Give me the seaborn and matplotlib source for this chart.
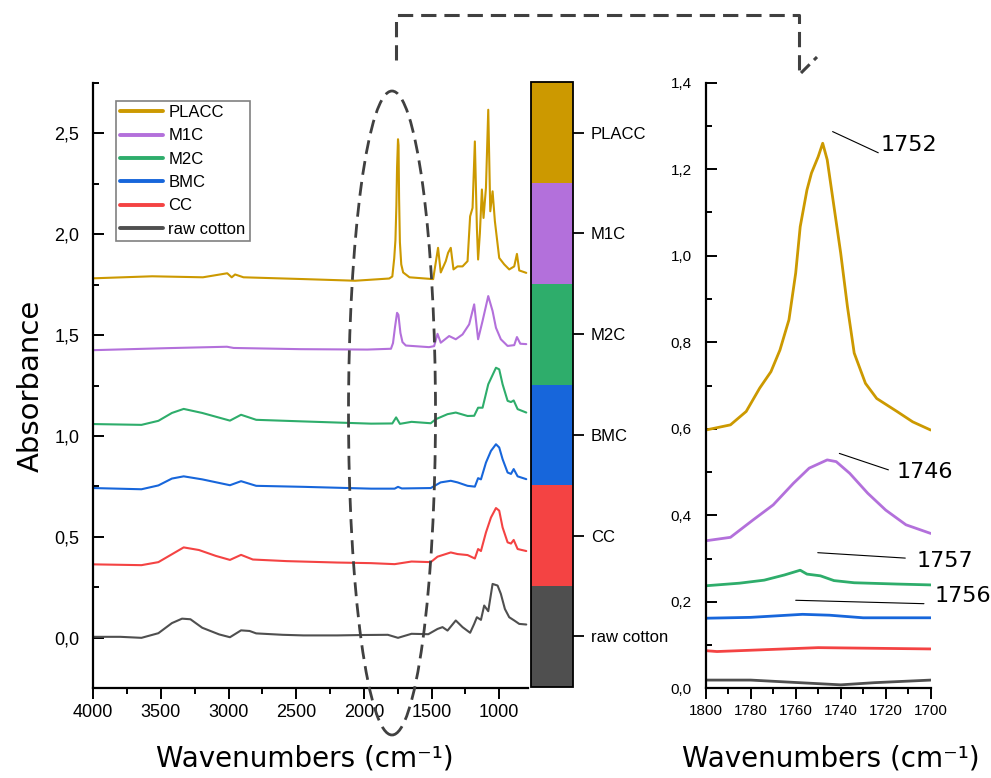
import numpy as np
import pandas as pd
import matplotlib
matplotlib.use("Agg")
import matplotlib.pyplot as plt
import seaborn as sns
from matplotlib.colors import ListedColormap, BoundaryNorm
from matplotlib.cm import ScalarMappable
from matplotlib.patches import Ellipse
from matplotlib.lines import Line2D
from matplotlib.ticker import MultipleLocator, FuncFormatter

# Muestras y colores (orden de la leyenda)
SAMPLES = ["PLACC", "M1C", "M2C", "BMC", "CC", "raw cotton"]
COLORS = ["#CC9900", "#B370DB", "#2EAD6B", "#1766DB", "#F44343", "#4F4F4F"]

# Espectros completos (números de onda en cm-1, absorbancia con desplazamiento)
PLACC_WN = [4000, 3565, 3190, 3010, 2977, 2952, 2890, 2439, 2064, 1813, 1790, 1776,
            1767, 1760, 1755, 1748, 1744, 1740, 1734, 1724, 1710, 1663, 1488, 1481,
            1452, 1432, 1395, 1378, 1358, 1338, 1308, 1271, 1234, 1215, 1197, 1180,
            1165, 1156, 1143, 1128, 1116, 1098, 1081, 1066, 1049, 1032, 1000, 963,
            926, 889, 869, 852, 800]
PLACC_A = [1.781, 1.791, 1.786, 1.806, 1.786, 1.800, 1.786, 1.777, 1.769, 1.780, 1.790, 1.880,
           1.970, 2.140, 2.330, 2.470, 2.440, 2.180, 1.960, 1.850, 1.810, 1.786, 1.777, 1.808,
           1.932, 1.810, 1.866, 1.907, 1.932, 1.825, 1.840, 1.840, 1.866, 2.088, 2.130, 2.459,
           2.031, 1.874, 2.003, 2.221, 2.080, 2.229, 2.616, 2.113, 2.212, 2.064, 1.882, 1.850,
           1.825, 1.840, 1.902, 1.820, 1.808]

M1C_WN = [4000, 3456, 3012, 2963, 2469, 1975, 1800, 1785, 1770, 1755, 1745, 1730, 1715,
          1690, 1519, 1481, 1456, 1432, 1370, 1321, 1271, 1222, 1185, 1156, 1123, 1081,
          1049, 1024, 988, 938, 889, 869, 844, 800]
M1C_A = [1.425, 1.435, 1.442, 1.436, 1.430, 1.428, 1.432, 1.460, 1.540, 1.610, 1.600, 1.510, 1.465,
         1.448, 1.440, 1.445, 1.506, 1.462, 1.495, 1.479, 1.503, 1.553, 1.652, 1.479, 1.570, 1.693,
         1.619, 1.536, 1.479, 1.446, 1.450, 1.490, 1.457, 1.455]

M2C_WN = [4000, 3644, 3519, 3419, 3332, 3195, 2990, 2908, 2796, 2447, 1947, 1790, 1762,
          1734, 1648, 1506, 1469, 1382, 1321, 1234, 1185, 1156, 1123, 1081, 1024, 1000,
          975, 938, 913, 893, 864, 800]
M2C_A = [1.059, 1.055, 1.075, 1.114, 1.134, 1.114, 1.076, 1.105, 1.080, 1.072, 1.061, 1.062, 1.092,
         1.060, 1.070, 1.063, 1.083, 1.108, 1.116, 1.099, 1.100, 1.140, 1.140, 1.256, 1.338, 1.330,
         1.256, 1.174, 1.168, 1.176, 1.133, 1.116]

BMC_WN = [4000, 3644, 3519, 3419, 3332, 3195, 2990, 2908, 2796, 2447, 1947, 1773, 1748,
          1720, 1506, 1433, 1358, 1308, 1234, 1180, 1156, 1135, 1098, 1061, 1024, 1000,
          975, 938, 913, 893, 864, 800]
BMC_A = [0.742, 0.736, 0.755, 0.789, 0.800, 0.785, 0.756, 0.776, 0.753, 0.748, 0.739, 0.739, 0.748,
         0.740, 0.742, 0.770, 0.778, 0.770, 0.753, 0.749, 0.791, 0.785, 0.868, 0.926, 0.959, 0.943,
         0.885, 0.819, 0.812, 0.836, 0.800, 0.786]

CC_WN = [4000, 3644, 3519, 3419, 3332, 3219, 3095, 2990, 2908, 2821, 2571, 2197, 1947,
         1773, 1648, 1506, 1456, 1358, 1308, 1234, 1180, 1156, 1135, 1098, 1061, 1024,
         1000, 975, 938, 913, 893, 864, 800]
CC_A = [0.364, 0.360, 0.375, 0.414, 0.448, 0.435, 0.406, 0.386, 0.411, 0.388, 0.380, 0.373, 0.370,
        0.365, 0.378, 0.375, 0.402, 0.423, 0.415, 0.410, 0.393, 0.440, 0.430, 0.522, 0.596, 0.643,
        0.630, 0.547, 0.473, 0.467, 0.485, 0.440, 0.430]

RAW_WN = [4000, 3800, 3644, 3519, 3419, 3344, 3282, 3195, 3070, 2990, 2908, 2845, 2796,
          2600, 2447, 2197, 2000, 1823, 1748, 1648, 1524, 1456, 1419, 1382, 1321, 1271,
          1215, 1185, 1165, 1135, 1111, 1081, 1049, 1012, 988, 958, 926, 889, 852, 800]
RAW_A = [0.005, 0.005, 0.000, 0.023, 0.073, 0.095, 0.092, 0.050, 0.017, 0.003, 0.037, 0.034, 0.022,
         0.015, 0.012, 0.012, 0.014, 0.015, 0.000, 0.020, 0.018, 0.044, 0.053, 0.036, 0.086, 0.053,
         0.025, 0.069, 0.102, 0.089, 0.160, 0.132, 0.267, 0.259, 0.218, 0.143, 0.102, 0.086, 0.069,
         0.066]

# Zona del carbonilo (1800-1700 cm-1)
PLACC_Z_WN = [1800, 1789, 1782, 1776, 1771, 1767, 1763, 1760, 1758, 1755, 1753, 1750, 1748,
              1746, 1743, 1740, 1737, 1734, 1729, 1724, 1715, 1708, 1700]
PLACC_Z_A = [0.597, 0.609, 0.640, 0.694, 0.732, 0.782, 0.852, 0.960, 1.067, 1.152, 1.191, 1.229,
             1.260, 1.222, 1.114, 1.006, 0.882, 0.775, 0.705, 0.670, 0.640, 0.616, 0.597]
M1C_Z_WN = [1800, 1789, 1779, 1770, 1761, 1754, 1746, 1742, 1736, 1728, 1720, 1711, 1700]
M1C_Z_A = [0.341, 0.349, 0.389, 0.424, 0.474, 0.509, 0.528, 0.524, 0.497, 0.451, 0.412, 0.378, 0.358]
M2C_Z_WN = [1800, 1785, 1774, 1765, 1758, 1755, 1749, 1743, 1734, 1715, 1700]
M2C_Z_A = [0.237, 0.243, 0.250, 0.262, 0.273, 0.264, 0.260, 0.249, 0.244, 0.241, 0.239]
BMC_Z_WN = [1800, 1780, 1757, 1745, 1730, 1700]
BMC_Z_A = [0.162, 0.164, 0.171, 0.169, 0.163, 0.163]
CC_Z_WN = [1800, 1795, 1780, 1750, 1700]
CC_Z_A = [0.087, 0.085, 0.088, 0.094, 0.091]
RAW_Z_WN = [1800, 1780, 1762, 1740, 1725, 1700]
RAW_Z_A = [0.019, 0.019, 0.014, 0.008, 0.013, 0.019]

PEAK_LABELS = ["1752", "1746", "1757", "1756"]


def long_df(series):
    frames = []
    for name, wn, a in series:
        frames.append(pd.DataFrame({"wn": wn, "A": a, "muestra": name}))
    return pd.concat(frames, ignore_index=True)


full = long_df(zip(SAMPLES, [PLACC_WN, M1C_WN, M2C_WN, BMC_WN, CC_WN, RAW_WN],
                   [PLACC_A, M1C_A, M2C_A, BMC_A, CC_A, RAW_A]))
zoom = long_df(zip(SAMPLES, [PLACC_Z_WN, M1C_Z_WN, M2C_Z_WN, BMC_Z_WN, CC_Z_WN, RAW_Z_WN],
                   [PLACC_Z_A, M1C_Z_A, M2C_Z_A, BMC_Z_A, CC_Z_A, RAW_Z_A]))

sns.set_style("ticks")
plt.rcParams["font.family"] = ["Liberation Sans", "DejaVu Sans"]
plt.rcParams.update({"axes.linewidth": 1.6, "text.color": "black",
                     "axes.labelcolor": "black", "axes.edgecolor": "black",
                     "xtick.color": "black", "ytick.color": "black"})

W, H = 991, 778
fig = plt.figure(figsize=(W / 100, H / 100), dpi=100)


def fx(px):
    return px / W


def fy(py):
    return 1 - py / H


comma = FuncFormatter(lambda v, p: f"{abs(v) if abs(v) < 1e-9 else v:.1f}".replace(".", ","))
label_font = dict(family="DejaVu Sans", fontsize=20)
XLABEL = "Wavenumbers (cm\u207b\u00b9)"

# Gráfico principal
ax = fig.add_axes([fx(93.3), fy(688.3), fx(528.3) - fx(93.3), fy(82.7) - fy(688.3)])
sns.lineplot(data=full, x="wn", y="A", hue="muestra", hue_order=SAMPLES, palette=COLORS,
             estimator=None, sort=False, lw=1.5, legend=False, ax=ax)
ax.set_xlim(4000, 785)
ax.set_ylim(-0.25, 2.75)
ax.xaxis.set_major_locator(MultipleLocator(500))
ax.xaxis.set_minor_locator(MultipleLocator(250))
ax.yaxis.set_major_locator(MultipleLocator(0.5))
ax.yaxis.set_minor_locator(MultipleLocator(0.25))
ax.yaxis.set_major_formatter(comma)
ax.tick_params(axis="x", which="both", direction="out", width=1.4, labelsize=13)
ax.tick_params(axis="y", which="both", direction="in", width=1.4, labelsize=13, pad=10)
ax.tick_params(which="major", length=8)
ax.tick_params(which="minor", length=4.5)
sns.despine(ax=ax)
ax.set_xlabel(XLABEL, **label_font)
ax.set_ylabel("Absorbance", family="DejaVu Sans", fontsize=21)
ax.xaxis.set_label_coords(0.487, -0.092)
ax.yaxis.set_label_coords(-0.112, 0.5)

handles = [Line2D([], [], color=c, lw=2.8) for c in COLORS]
leg = ax.legend(handles, SAMPLES, loc="upper left", bbox_to_anchor=(0.052, 0.97),
                borderaxespad=0, fancybox=False, edgecolor="#808080", framealpha=1,
                fontsize=12, handlelength=2.6, handletextpad=0.3, labelspacing=0.5,
                borderpad=0.25)
leg.get_frame().set_linewidth(1.2)

# Barra de colores con las muestras
cax = fig.add_axes([fx(531), fy(686.7), fx(572.7) - fx(531), fy(82.3) - fy(686.7)])
cmap = ListedColormap(COLORS[::-1])
norm = BoundaryNorm(np.arange(len(SAMPLES) + 1), cmap.N)
cb = fig.colorbar(ScalarMappable(norm=norm, cmap=cmap), cax=cax,
                  ticks=np.arange(len(SAMPLES)) + 0.5)
cb.set_ticklabels(SAMPLES[::-1])
cb.outline.set_linewidth(1.3)
cax.tick_params(length=8, width=1.3, labelsize=12, pad=5)
cax.minorticks_off()

# Ampliación de la zona del carbonilo
ax2 = fig.add_axes([fx(705.7), fy(688.3), fx(930.7) - fx(705.7), fy(82.7) - fy(688.3)])
sns.lineplot(data=zoom, x="wn", y="A", hue="muestra", hue_order=SAMPLES, palette=COLORS,
             estimator=None, sort=False, lw=2.0, legend=False, ax=ax2)
ax2.set_xlim(1800, 1700)
ax2.set_ylim(0, 1.4)
ax2.xaxis.set_major_locator(MultipleLocator(20))
ax2.xaxis.set_minor_locator(MultipleLocator(10))
ax2.yaxis.set_major_locator(MultipleLocator(0.2))
ax2.yaxis.set_minor_locator(MultipleLocator(0.1))
ax2.yaxis.set_major_formatter(comma)
ax2.tick_params(axis="x", which="both", direction="out", width=1.4, labelsize=11)
ax2.tick_params(axis="y", which="both", direction="in", width=1.4, labelsize=11, pad=10)
ax2.tick_params(which="major", length=8)
ax2.tick_params(which="minor", length=4.5)
sns.despine(ax=ax2)
ax2.set_xlabel(XLABEL, **label_font)
ax2.set_ylabel("")
ax2.xaxis.set_label_coords(0.557, -0.092)

# Etiquetas de los picos
leaders = [((1743.6, 1.287), (1723.3, 1.238), (1722.5, 1.257)),
           ((1740.6, 0.543), (1718.8, 0.505), (1715.1, 0.501)),
           ((1750.2, 0.3135), (1711.3, 0.301), (1706.1, 0.295)),
           ((1760.0, 0.2035), (1703.0, 0.1956), (1698.1, 0.214))]
for txt, (p0, p1, pt) in zip(PEAK_LABELS, leaders):
    ax2.plot([p0[0], p1[0]], [p0[1], p1[1]], color="black", lw=0.8, clip_on=False)
    ax2.text(pt[0], pt[1], txt, ha="left", va="center", family="DejaVu Sans",
             fontsize=16, clip_on=False)

# Elipse discontinua y flecha hacia la ampliación
dash = (0, (5, 2.6))
ell = Ellipse((fx(392), fy(413)), fx(87), 644 / H, transform=fig.transFigure,
              fill=False, edgecolor="#404040", lw=2.0, linestyle=dash)
fig.add_artist(ell)
fig.add_artist(Line2D([fx(396), fx(396), fx(799), fx(799)],
                      [fy(60), fy(15), fy(15), fy(72)], transform=fig.transFigure,
                      color="#404040", lw=2.2, linestyle=dash))
fig.add_artist(Line2D([fx(801), fx(817)], [fy(73), fy(57)], transform=fig.transFigure,
                      color="#404040", lw=2.2, linestyle=(0, (4, 2))))

fig.savefig("out.png", dpi=100)
plt.close(fig)
